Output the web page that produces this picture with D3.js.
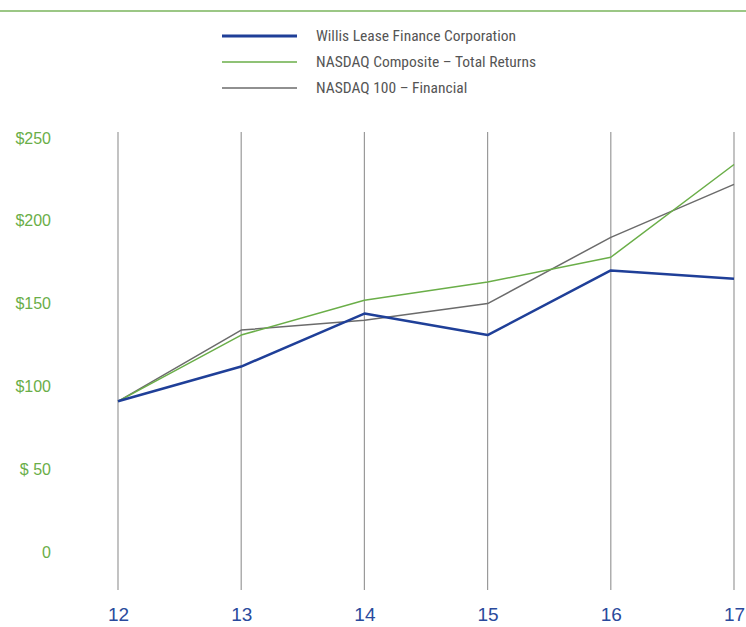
<!DOCTYPE html>
<html>
<head>
<meta charset="utf-8">
<script src="https://cdn.jsdelivr.net/npm/d3@7"></script>
<style>
  body { margin: 0; background: #fff; }
  text { font-family: "Liberation Sans Narrow", "Roboto Condensed", "DejaVu Sans Condensed", sans-serif; }
</style>
</head>
<body>
<svg id="chart"></svg>
<script>
const years = ['12', '13', '14', '15', '16', '17'];
const willis = [91, 112, 144, 131, 170, 165];
const nasdaqComposite = [91, 131, 152, 163, 178, 234];
const nasdaqFinancial = [91, 134, 140, 150, 190, 222];
const yTicks = [0, 50, 100, 150, 200, 250];
const yTickLabels = ['0', '$ 50', '$100', '$150', '$200', '$250'];

const series = [
  { name: 'Willis Lease Finance Corporation', values: willis, color: '#1f3f98', width: 2.5 },
  { name: 'NASDAQ Composite – Total Returns', values: nasdaqComposite, color: '#6aae48', width: 1.5 },
  { name: 'NASDAQ 100 – Financial', values: nasdaqFinancial, color: '#6b6b6b', width: 1.5 }
];

const width = 746, height = 627;
const svg = d3.select('#chart').attr('width', width).attr('height', height);

const x = d3.scalePoint().domain(years).range([118, 734]);
const y = d3.scaleLinear().domain([0, 250]).range([552, 138]);

// top rule
svg.append('line')
  .attr('x1', 0).attr('x2', width)
  .attr('y1', 11).attr('y2', 11)
  .attr('stroke', '#7ab55c').attr('stroke-width', 1.5);

// legend
const legend = svg.append('g');
series.forEach((s, i) => {
  const ly = 36 + i * 26;
  legend.append('line')
    .attr('x1', 222).attr('x2', 297)
    .attr('y1', ly).attr('y2', ly)
    .attr('stroke', s.color)
    .attr('stroke-width', i === 0 ? 3 : 1.5);
  legend.append('text')
    .attr('x', 316).attr('y', ly + 5)
    .attr('font-size', '15.5px')
    .attr('fill', '#555')
    .text(s.name);
});

// vertical grid lines
svg.append('g')
  .selectAll('line')
  .data(years)
  .join('line')
  .attr('x1', d => x(d)).attr('x2', d => x(d))
  .attr('y1', 132).attr('y2', 590)
  .attr('stroke', '#9a9a9a').attr('stroke-width', 1.2);

// y axis labels
const yAxis = d3.axisLeft(y)
  .tickValues(yTicks)
  .tickFormat((d, i) => yTickLabels[i])
  .tickSize(0)
  .tickPadding(0);
const gy = svg.append('g')
  .attr('transform', 'translate(51,0)')
  .call(yAxis);
gy.select('.domain').remove();
gy.selectAll('text')
  .attr('font-size', '16px')
  .attr('fill', '#6aae48')
  .style('font-family', '"Liberation Sans Narrow", sans-serif');

// x axis labels
const xAxis = d3.axisBottom(x).tickSize(0).tickPadding(12);
const gx = svg.append('g')
  .attr('transform', 'translate(0,596)')
  .call(xAxis);
gx.select('.domain').remove();
gx.selectAll('text')
  .attr('font-size', '19px')
  .attr('fill', '#2a4a9c')
  .style('font-family', '"Liberation Sans Narrow", sans-serif');

// lines
const line = d3.line()
  .x((d, i) => x(years[i]))
  .y(d => y(d));

series.slice().reverse().forEach(s => {
  svg.append('path')
    .datum(s.values)
    .attr('fill', 'none')
    .attr('stroke', s.color)
    .attr('stroke-width', s.width)
    .attr('stroke-linejoin', 'round')
    .attr('d', line);
});
</script>
</body>
</html>
